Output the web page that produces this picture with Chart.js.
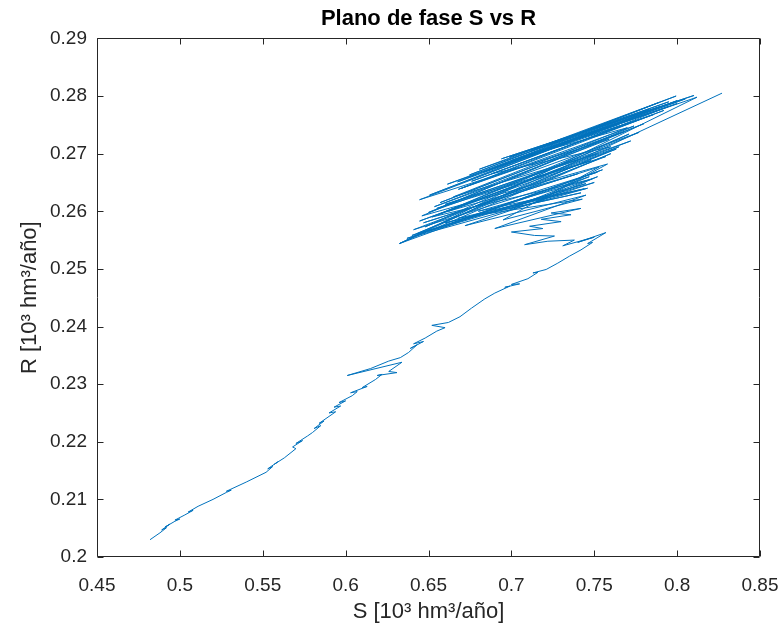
<!DOCTYPE html>
<html>
<head>
<meta charset="utf-8">
<script src="https://cdn.jsdelivr.net/npm/chart.js@4.4.1/dist/chart.umd.min.js"></script>
<style>
  html, body { margin: 0; padding: 0; background: #fff; }
  #wrap { width: 780px; height: 633px; }
</style>
</head>
<body>
<div id="wrap"><canvas id="phase"></canvas></div>
<script>
// --- axis ticks (as MATLAB prints them) ---
const xTicks = [0.45, 0.5, 0.55, 0.6, 0.65, 0.7, 0.75, 0.8, 0.85];
const xTickLabels = ['0.45', '0.5', '0.55', '0.6', '0.65', '0.7', '0.75', '0.8', '0.85'];
const yTicks = [0.2, 0.21, 0.22, 0.23, 0.24, 0.25, 0.26, 0.27, 0.28, 0.29];
const yTickLabels = ['0.2', '0.21', '0.22', '0.23', '0.24', '0.25', '0.26', '0.27', '0.28', '0.29'];

// --- trajectory [S, R] in three stretches ---
// climb from the lower-left corner
const climb = [
  [0.482, 0.2030], [0.488, 0.2042], [0.492, 0.2051], [0.489, 0.2047], [0.494, 0.2057],
  [0.491, 0.2052], [0.497, 0.2062], [0.500, 0.2066], [0.497, 0.2064], [0.503, 0.2073],
  [0.508, 0.2081], [0.505, 0.2078], [0.511, 0.2088], [0.520, 0.2100], [0.528, 0.2112],
  [0.531, 0.2116], [0.528, 0.2114], [0.540, 0.2130], [0.552, 0.2147], [0.556, 0.2157],
  [0.553, 0.2153], [0.559, 0.2165], [0.557, 0.2161], [0.563, 0.2172], [0.570, 0.2188],
  [0.568, 0.2191], [0.574, 0.2202], [0.570, 0.2197], [0.577, 0.2210], [0.580, 0.2216],
  [0.585, 0.2228], [0.581, 0.2223], [0.587, 0.2236], [0.584, 0.2232], [0.590, 0.2244],
  [0.594, 0.2252], [0.590, 0.2250], [0.597, 0.2262], [0.593, 0.2260], [0.600, 0.2271],
  [0.596, 0.2268], [0.604, 0.2280], [0.607, 0.2287], [0.603, 0.2285], [0.613, 0.2296],
  [0.610, 0.2294], [0.618, 0.2308], [0.622, 0.2317], [0.619, 0.2315], [0.631, 0.2320],
  [0.626, 0.2322], [0.634, 0.2338], [0.601, 0.2315], [0.615, 0.2327], [0.626, 0.2340],
  [0.633, 0.2346], [0.638, 0.2355], [0.643, 0.2368], [0.639, 0.2362], [0.647, 0.2374],
  [0.641, 0.2370], [0.648, 0.2380], [0.655, 0.2392], [0.660, 0.2398], [0.652, 0.2402],
  [0.662, 0.2407], [0.669, 0.2417], [0.676, 0.2432], [0.684, 0.2448], [0.690, 0.2458],
  [0.699, 0.2470], [0.696, 0.2468], [0.705, 0.2474], [0.700, 0.2473], [0.710, 0.2483],
  [0.716, 0.2494], [0.713, 0.2493], [0.721, 0.2499], [0.728, 0.2510], [0.735, 0.2522],
  [0.742, 0.2533], [0.749, 0.2546], [0.746, 0.2544], [0.757, 0.2563]
];

// small knot below the band
const knot = [
  [0.740, 0.2546], [0.750, 0.2555], [0.731, 0.2540], [0.738, 0.2550], [0.722, 0.2548],
  [0.708, 0.2542], [0.726, 0.2557], [0.714, 0.2558], [0.700, 0.2564], [0.719, 0.2570],
  [0.711, 0.2574], [0.730, 0.2582], [0.718, 0.2586], [0.736, 0.2594], [0.724, 0.2597],
  [0.742, 0.2605]
];

// back-and-forth strokes of the upper band
const band = [
  [0.690, 0.2570], [0.745, 0.2628], [0.672, 0.2575], [0.750, 0.2650], [0.650, 0.2565],
  [0.755, 0.2672], [0.6325, 0.2544], [0.760, 0.2700], [0.640, 0.2558], [0.745, 0.2648],
  [0.643, 0.2561], [0.765, 0.2712], [0.6446, 0.2583], [0.7633, 0.2708], [0.648, 0.2573],
  [0.771, 0.2734], [0.6566, 0.2595], [0.7771, 0.2737], [0.6536, 0.2608], [0.759, 0.2725],
  [0.6446, 0.2620], [0.7741, 0.2763], [0.6506, 0.2628], [0.7831, 0.2777], [0.6614, 0.2647],
  [0.7651, 0.2751], [0.6675, 0.2651], [0.7892, 0.2789], [0.6747, 0.2663], [0.7994, 0.2800],
  [0.6807, 0.2673], [0.790, 0.2782], [0.694, 0.2691], [0.8102, 0.2801], [0.6988, 0.2694],
  [0.795, 0.2790], [0.712, 0.2705], [0.785, 0.2772], [0.705, 0.2693], [0.770, 0.2745],
  [0.665, 0.2625], [0.752, 0.2700], [0.660, 0.2612], [0.748, 0.2688], [0.652, 0.2590],
  [0.7488, 0.2656], [0.680, 0.2600], [0.744, 0.2639], [0.668, 0.2588], [0.7428, 0.2621],
  [0.695, 0.2585], [0.753, 0.2677], [0.647, 0.2580], [0.740, 0.2665],
  [0.662, 0.2600], [0.772, 0.2722], [0.650, 0.2598], [0.780, 0.2752], [0.657, 0.2615],
  [0.768, 0.2738], [0.670, 0.2640], [0.792, 0.2775], [0.676, 0.2652], [0.786, 0.2768],
  [0.683, 0.2668], [0.800, 0.2787], [0.690, 0.2676], [0.805, 0.2795], [0.700, 0.2688],
  [0.778, 0.2760], [0.688, 0.2665], [0.760, 0.2712], [0.655, 0.2605], [0.757, 0.2695],
  [0.641, 0.2568], [0.752, 0.2668], [0.637, 0.2553], [0.746, 0.2640], [0.660, 0.2580],
  [0.742, 0.2632], [0.675, 0.2590], [0.747, 0.2660], [0.700, 0.2605], [0.752, 0.2660],
  [0.715, 0.2615], [0.758, 0.2682], [0.646, 0.2592], [0.774, 0.2748], [0.668, 0.2638],
  [0.795, 0.2782], [0.720, 0.2708], [0.800, 0.2792], [0.735, 0.2722], [0.812, 0.2798],
  [0.6325, 0.2544], [0.8271, 0.2805]
];

const axisColor = '#262626';
const lineColor = '#0072BD';
const fontFamily = 'Liberation Sans, Arial, sans-serif';

// --- MATLAB style box with inward ticks on all four sides ---
const boxPlugin = {
  id: 'matlabBox',
  afterLayout(chart) {
    // centre the title over the plot box, not the whole canvas
    if (chart.titleBlock) {
      chart.titleBlock.left = chart.chartArea.left;
      chart.titleBlock.right = chart.chartArea.right;
    }
  },
  afterDatasetsDraw(chart) {
    const { ctx, chartArea: a, scales } = chart;
    const L = Math.round(a.left) + 0.5, R = Math.round(a.right) - 0.5;
    const T = Math.round(a.top) + 0.5, B = Math.round(a.bottom) - 0.5;
    const len = 6;
    ctx.save();
    ctx.strokeStyle = axisColor;
    ctx.lineWidth = 1;
    ctx.beginPath();
    ctx.rect(L, T, R - L, B - T);
    xTicks.forEach(v => {
      const px = Math.round(scales.x.getPixelForValue(v)) + 0.5;
      ctx.moveTo(px, B); ctx.lineTo(px, B - len);
      ctx.moveTo(px, T); ctx.lineTo(px, T + len);
    });
    yTicks.forEach(v => {
      const py = Math.round(scales.y.getPixelForValue(v)) + 0.5;
      ctx.moveTo(L, py); ctx.lineTo(L + len, py);
      ctx.moveTo(R, py); ctx.lineTo(R - len, py);
    });
    ctx.stroke();
    ctx.restore();
  }
};

const toPoints = arr => arr.map(p => ({ x: p[0], y: p[1] }));
const track = toPoints(climb.concat(knot, band));

new Chart(document.getElementById('phase'), {
  type: 'scatter',
  data: {
    datasets: [{
      data: track,
      showLine: true,
      borderColor: lineColor,
      borderWidth: 1,
      pointRadius: 0,
      tension: 0,
      fill: false
    }]
  },
  options: {
    responsive: true,
    maintainAspectRatio: false,
    animation: false,
    devicePixelRatio: 1,
    layout: { padding: { left: 0, right: 20, top: 0, bottom: 0 } },
    plugins: {
      legend: { display: false },
      tooltip: { enabled: false },
      title: {
        display: true,
        text: 'Plano de fase S vs R',
        color: '#000',
        font: { family: fontFamily, size: 22, weight: 'bold' },
        padding: { top: 6, bottom: 6 }
      }
    },
    scales: {
      x: {
        type: 'linear',
        min: 0.45,
        max: 0.85,
        afterBuildTicks: s => { s.ticks = xTicks.map(v => ({ value: v })); },
        afterFit: s => { s.height = 76; s.paddingLeft = 0; s.paddingRight = 0; },
        ticks: {
          autoSkip: false,
          maxRotation: 0,
          padding: 9,
          color: axisColor,
          font: { family: fontFamily, size: 19 },
          callback: (v, i) => xTickLabels[i]
        },
        grid: { display: false },
        border: { display: false },
        title: {
          display: true,
          text: 'S [10³ hm³/año]',
          color: axisColor,
          font: { family: fontFamily, size: 22 },
          padding: { top: 0, bottom: 8 }
        }
      },
      y: {
        type: 'linear',
        min: 0.2,
        max: 0.29,
        afterBuildTicks: s => { s.ticks = yTicks.map(v => ({ value: v })); },
        afterFit: s => { s.width = 97; },
        ticks: {
          autoSkip: false,
          padding: 2,
          color: axisColor,
          font: { family: fontFamily, size: 19 },
          callback: (v, i) => yTickLabels[i]
        },
        grid: { display: false },
        border: { display: false },
        title: {
          display: true,
          text: 'R [10³ hm³/año]',
          color: axisColor,
          font: { family: fontFamily, size: 22 },
          padding: { top: 17, bottom: 0 }
        }
      }
    }
  },
  plugins: [boxPlugin]
});
</script>
</body>
</html>
